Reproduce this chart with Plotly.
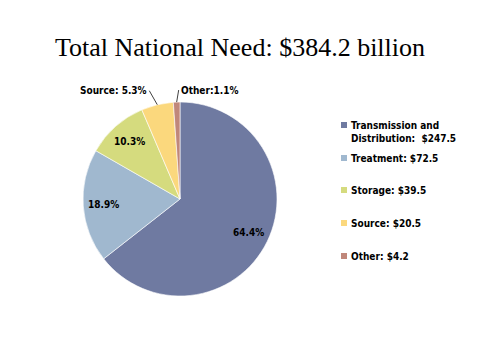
import math
import plotly.graph_objects as go

categories = ["Transmission and Distribution", "Treatment", "Storage", "Source", "Other"]
needs = [247.5, 72.5, 39.5, 20.5, 4.2]
percent_labels = ["64.4%", "18.9%", "10.3%", "Source: 5.3%", "Other:1.1%"]
legend_labels = ["Transmission and<br>Distribution:  $247.5", "Treatment: $72.5",
                 "Storage: $39.5", "Source: $20.5", "Other: $4.2"]
colors = ["#6F7AA1", "#A0B8CF", "#D5DB7E", "#FBD87D", "#C0877A"]
title_text = "Total National Need: $384.2 billion"

# page has an 8px body margin; work in reference pixel coordinates
OFF = 8
W, H = 472, 352
def px(x):
    return (x - OFF) / W
def py(y):
    return 1 - (y - OFF) / H

cx, cy, r = 180, 199, 97
FONT = "DejaVu Sans Condensed, DejaVu Sans, sans-serif"
lab_font = dict(family=FONT, size=10, color="black", weight="bold")

fig = go.Figure()
fig.add_trace(go.Pie(
    labels=categories,
    values=needs,
    textinfo="none",
    sort=False,
    direction="clockwise",
    rotation=0,
    marker=dict(colors=colors, line=dict(color="white", width=0.6)),
    domain=dict(x=[px(cx - r), px(cx + r)], y=[py(cy + r), py(cy - r)]),
    showlegend=False,
    hoverinfo="skip",
))

# data labels positioned from the slice mid-angles
total = sum(needs)
cum = 0
for i, (v, t) in enumerate(zip(needs, percent_labels)):
    mid = (cum + v / 2) / total * 2 * math.pi
    cum += v
    sx, sy = math.sin(mid), math.cos(mid)
    if i < 3:
        f = 0.79
        fig.add_annotation(xref="paper", yref="paper", x=px(cx + f * r * sx), y=py(cy - f * r * sy),
                           xanchor="center", yanchor="middle",
                           text=t, showarrow=False, font=lab_font)
    else:
        tipx, tipy = cx + r * sx, cy - r * sy
        if i == 3:
            fig.add_annotation(xref="paper", yref="paper", x=px(tipx), y=py(tipy), text=t,
                               showarrow=True, arrowhead=0, arrowwidth=1, arrowcolor="#404040",
                               ax=-8, ay=-14, xanchor="right", yanchor="middle", font=lab_font)
        else:
            fig.add_annotation(xref="paper", yref="paper", x=px(tipx), y=py(tipy), text=t,
                               showarrow=True, arrowhead=0, arrowwidth=1, arrowcolor="#404040",
                               ax=2, ay=-12, xanchor="left", yanchor="middle", font=lab_font)

# manual legend
legend_y = [125, 158, 190, 223, 256]
for lab, col, yy in zip(legend_labels, colors, legend_y):
    fig.add_shape(type="rect", xref="paper", yref="paper",
                  x0=px(341), x1=px(347), y0=py(yy + 3), y1=py(yy - 3),
                  fillcolor=col, line=dict(width=0))
    fig.add_annotation(xref="paper", yref="paper", x=px(349), y=py(yy - 7),
                       xanchor="left", yanchor="top", align="left", showarrow=False,
                       text=lab, font=lab_font)

fig.update_layout(
    width=W, height=H,
    margin=dict(l=0, r=0, t=0, b=0),
    paper_bgcolor="white", plot_bgcolor="white",
    title=dict(text=title_text, x=px(240), xanchor="center", y=py(47), yanchor="middle",
               font=dict(family="Liberation Serif", size=26, color="black")),
)

fig.write_html("out.html")
